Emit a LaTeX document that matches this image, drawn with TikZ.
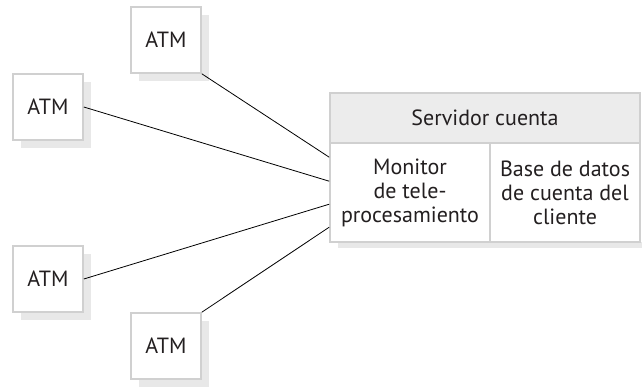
\documentclass[tikz,border=0pt]{standalone}
\usepackage{fontspec}
\setmainfont{PT Sans}
\usepackage{xcolor}
\usepackage{tikz}
\usetikzlibrary{positioning, calc, shadows}
\definecolor{boxgray}{RGB}{208, 208, 208}
\definecolor{shadegray}{RGB}{232, 232, 232}
\definecolor{headgray}{RGB}{236, 236, 236}
\definecolor{inkgray}{RGB}{35, 31, 32}

\begin{document}
\begin{tikzpicture}[x=1pt, y=-1pt,
    atmbox/.style={draw=boxgray, line width=1.6pt, fill=white, minimum width=70pt,
                   minimum height=66pt, inner sep=0pt, text=inkgray,
                   font=\fontsize{22}{24}\selectfont,
                   drop shadow={shadow xshift=8pt, shadow yshift=-8pt,
                                fill=shadegray, opacity=1}},
    cell/.style={draw=boxgray, line width=1.6pt, minimum height=99pt, inner sep=0pt,
                 align=center, text=inkgray, font=\fontsize{22}{24}\selectfont},
    link/.style={draw=black, line width=0.8pt}
]
    \useasboundingbox (0,0) rectangle (642,386);
    \fill[shadegray] (338,242) rectangle (642,248);

    \node[atmbox] (atma) at (166,40) {ATM};
    \node[atmbox] (atmb) at (48,107) {ATM};
    \node[atmbox] (atmc) at (48,279) {ATM};
    \node[atmbox] (atmd) at (166,346) {ATM};

    \node[cell, fill=headgray, minimum width=310pt, minimum height=50pt] (hdr) at (485,118) {Servidor cuenta};
    \node[cell, fill=white, minimum width=160pt] (mon) at (410,192.5) {Monitor\\de tele-\\procesamiento};
    \node[cell, fill=white, minimum width=150pt] (db) at (565,192.5) {Base de datos\\de cuenta del\\cliente};

    \draw[link] (atma.south east) -- ($(mon.north west)+(0,15)$);
    \draw[link] (atmb.east) -- ($(mon.north west)+(0,39)$);
    \draw[link] (atmc.east) -- ($(mon.north west)+(0,62)$);
    \draw[link] (atmd.north east) -- ($(mon.north west)+(0,85)$);
\end{tikzpicture}
\end{document}
